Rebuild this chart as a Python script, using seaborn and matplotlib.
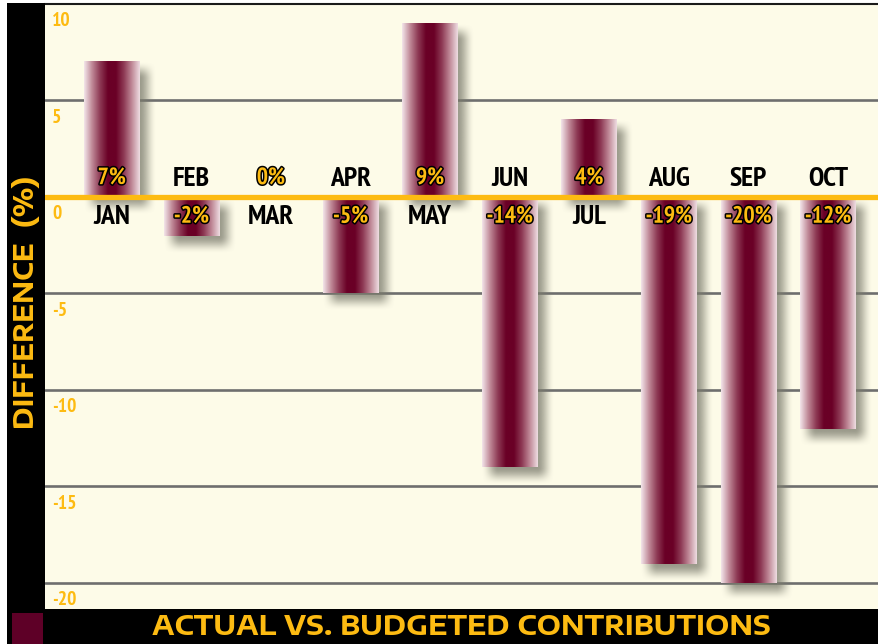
import numpy as np
import pandas as pd
import seaborn as sns
import matplotlib.pyplot as plt
import matplotlib.patheffects as pe
from matplotlib.colors import LinearSegmentedColormap, to_rgb
from matplotlib.patches import Rectangle

# ---------------------------------------------------------------------------
# Datos
# ---------------------------------------------------------------------------
months = ["JAN", "FEB", "MAR", "APR", "MAY", "JUN", "JUL", "AUG", "SEP", "OCT"]
diff_pct = [7, -2, 0, -5, 9, -14, 4, -19, -20, -12]
yticks = [10, 5, 0, -5, -10, -15, -20]

title = "ACTUAL VS. BUDGETED CONTRIBUTIONS"
ylabel = "DIFFERENCE  (%)"

CREAM = "#FDFBE8"
MAROON = "#6A0026"
YELLOW = "#FDBB12"
GRID = "#6E6E6E"
NARROW = ["PT Sans Narrow", "Roboto Condensed", "Liberation Sans Narrow", "DejaVu Sans"]
WIDE = ["Encode Sans Expanded", "DejaVu Sans"]

sns.set_theme(style="white")
plt.rcParams["font.family"] = ["DejaVu Sans"]

W, H = 879, 644
fig = plt.figure(figsize=(W / 100, H / 100), dpi=100, facecolor="white")

# franjas negras (izquierda y abajo)
fig.patches.append(Rectangle((7 / W, 0), (45 - 7) / W, 1 - 3 / H, transform=fig.transFigure,
                             facecolor="black", edgecolor="none", zorder=0))
fig.patches.append(Rectangle((7 / W, 0), 1, (H - 609) / H, transform=fig.transFigure,
                             facecolor="black", edgecolor="none", zorder=0))
fig.patches.append(Rectangle((12 / W, 0), 31 / W, 31 / H, transform=fig.transFigure,
                             facecolor="#5E0027", edgecolor="none", zorder=1))

ax = fig.add_axes([45 / W, (H - 609) / H, (W - 45) / W, (609 - 4) / H])
ax.set_facecolor(CREAM)

df = pd.DataFrame({"month": months, "diff": diff_pct})
sns.barplot(data=df, x="month", y="diff", color=MAROON, saturation=1, width=0.7,
            ax=ax, zorder=3)
bars = list(ax.patches)

XMIN, XMAX = -0.84, 9.64
YMIN, YMAX = -21.35, 10.0
px_x = (W - 45) / (XMAX - XMIN)
px_y = (609 - 4) / (YMAX - YMIN)

# rejilla
for t in yticks:
    if t == 0 or t == 10:
        continue
    ax.axhline(t, color=GRID, lw=1.9, zorder=1)
ax.axhline(0, color=YELLOW, lw=3.8, zorder=5)

# degradado de las barras y sombra
cmap = LinearSegmentedColormap.from_list(
    "bar", ["#F3E6EA", "#C08A98", "#8E3A55", "#6A0026", "#6A0026", "#8E3A55", "#C08A98", "#EEDDE2"])
grad = np.linspace(0, 1, 256).reshape(1, -1)

shadow_rgb = np.array(to_rgb("#7A7A6C"))
dx, dy, r = 8 / px_x, 9 / px_y, 9


def smooth_edge(n, pad):
    a = np.ones(n)
    ramp = np.linspace(0, 1, pad)
    ramp = ramp * ramp * (3 - 2 * ramp)
    a[:pad] = ramp
    a[-pad:] = ramp[::-1]
    return a


for b in bars:
    x0, w = b.get_x(), b.get_width()
    y0, h = b.get_y(), b.get_height()
    if h == 0:
        continue
    yb, yt = min(y0, y0 + h), max(y0, y0 + h)
    # sombra suave
    nx = int(w * px_x) + 2 * r
    ny = int((yt - yb) * px_y) + 2 * r
    alpha = np.outer(smooth_edge(ny, 2 * r), smooth_edge(nx, 2 * r)) * 0.75
    img = np.zeros((ny, nx, 4))
    img[..., :3] = shadow_rgb
    img[..., 3] = alpha
    ax.imshow(img, extent=[x0 + dx - r / px_x, x0 + w + dx + r / px_x,
                           yb - dy - r / px_y, yt - dy + r / px_y],
              aspect="auto", origin="upper", zorder=2, interpolation="bilinear")
    ax.imshow(grad, extent=[x0, x0 + w, yb, yt], aspect="auto", cmap=cmap,
              zorder=4, interpolation="bilinear")
    b.set_visible(False)

# etiquetas de mes y porcentaje
for i, (m, v) in enumerate(zip(months, diff_pct)):
    if v >= 0:
        y_pct, y_mon = 0.95, -1.05
    else:
        y_pct, y_mon = -1.05, 0.95
    ax.text(i, y_mon, m, ha="center", va="center", fontsize=20, fontweight="bold",
            family=NARROW, color="black", zorder=6)
    ax.text(i, y_pct, f"{v}%", ha="center", va="center", fontsize=17, fontweight="bold",
            family=NARROW, color=YELLOW, zorder=6,
            path_effects=[pe.withStroke(linewidth=2.2, foreground="black")])

# marcas del eje y
for t in yticks:
    ax.text(7 / (W - 45), t - 0.42, str(t), transform=ax.get_yaxis_transform(),
            ha="left", va="top", fontsize=14, fontweight="semibold", family=NARROW,
            color=YELLOW, zorder=6)

ax.set_xlim(XMIN, XMAX)
ax.set_ylim(YMIN, YMAX)
ax.set_xticks([])
ax.set_yticks([])
ax.set_xlabel("")
ax.set_ylabel("")
for s in ["left", "right", "bottom"]:
    ax.spines[s].set_visible(False)
ax.spines["top"].set_color("#1A1A1A")
ax.spines["top"].set_linewidth(1.5)

fig.text(26 / W, 1 - 302 / H, ylabel, rotation=90, ha="center", va="center",
         fontsize=19, fontweight="bold", family=WIDE, color=YELLOW)
fig.text(461 / W, 1 - 627 / H, title, ha="center", va="center",
         fontsize=19.5, fontweight="bold", family=WIDE, color=YELLOW)

fig.savefig("out.png", dpi=100, facecolor="white")
